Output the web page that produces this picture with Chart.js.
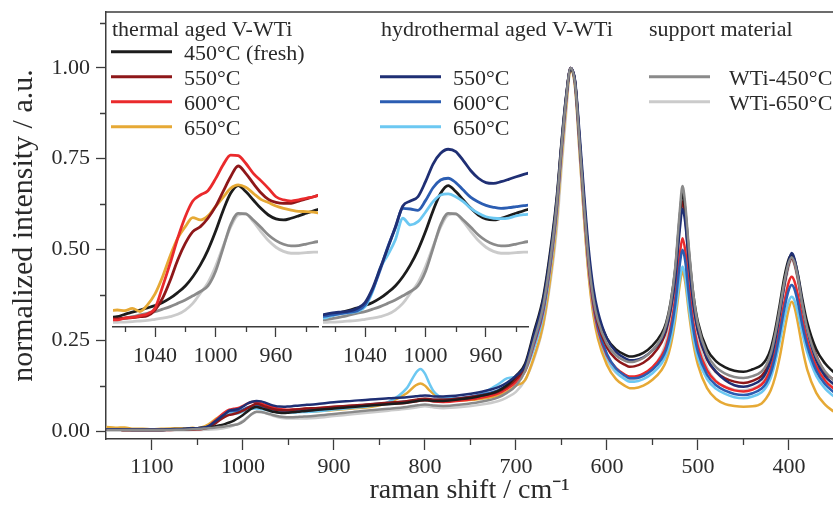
<!DOCTYPE html>
<html>
<head>
<meta charset="utf-8">
<script src="https://cdn.jsdelivr.net/npm/chart.js@4.4.1/dist/chart.umd.min.js"></script>
<style>
  html, body { margin: 0; padding: 0; background: #fff; }
  #wrap { position: relative; width: 833px; height: 515px; overflow: hidden; }
  #main { position: absolute; left: 0; top: 0; }
  #inset1 { position: absolute; left: 100px; top: 130px; }
  #inset2 { position: absolute; left: 310px; top: 130px; }
</style>
</head>
<body>
<div id="wrap">
  <canvas id="main" width="833" height="515"></canvas>
  <canvas id="inset1" width="230" height="240"></canvas>
  <canvas id="inset2" width="230" height="240"></canvas>
</div>
<script>
// raman shift grid (cm-1), shared by every spectrum
const shift = [
  1150, 1140, 1130, 1120, 1110, 1100, 1090, 1080, 1070,
  1065, 1060, 1055, 1050, 1045, 1040, 1035, 1030, 1025, 1020, 1015, 1010, 1005, 1000, 995, 990, 985, 980, 975, 970, 965, 960, 955, 950, 945, 940, 935, 930,
  920, 900, 880, 860, 840, 820, 810, 805, 800, 795, 790, 780, 760, 740, 720, 710, 700,
  690, 680, 670, 660, 655, 650, 645, 640, 635, 630, 625, 620, 615, 610, 600, 590, 580, 575, 570, 560, 550, 540, 535, 530, 525, 520, 517, 514, 510, 505, 500, 490, 480, 470, 460, 450, 440, 430, 425, 420, 415, 410, 405, 400, 397, 394, 390, 385, 380, 370, 360, 350
];

// thermal aged V-WTi
const t450 = [
  0.004, 0.004, 0.003, 0.003, 0.003, 0.003, 0.003, 0.004, 0.0045,
  0.0048, 0.0059, 0.0069, 0.0079, 0.0089, 0.0100, 0.0114, 0.0134, 0.0160, 0.0191, 0.0234, 0.0289, 0.0358, 0.0444, 0.0541, 0.0622, 0.0658, 0.0630, 0.0591, 0.0552, 0.0521, 0.0503, 0.0498, 0.0506, 0.0517, 0.0529, 0.0541, 0.0552,
  0.058, 0.062, 0.066, 0.070, 0.074, 0.078, 0.082, 0.084, 0.085, 0.084, 0.083, 0.083, 0.088, 0.096, 0.110, 0.126, 0.152,
  0.185, 0.275, 0.370, 0.540, 0.650, 0.795, 0.920, 0.995, 0.960, 0.800, 0.630, 0.480, 0.380, 0.320, 0.255, 0.225, 0.210, 0.205, 0.206, 0.215, 0.235, 0.268, 0.298, 0.355, 0.445, 0.590, 0.655, 0.610, 0.495, 0.375, 0.300, 0.225, 0.192, 0.175, 0.166, 0.163, 0.170, 0.182, 0.197, 0.227, 0.280, 0.350, 0.425, 0.475, 0.485, 0.472, 0.430, 0.360, 0.300, 0.225, 0.185, 0.160
];
const t550 = [
  0.004, 0.004, 0.003, 0.003, 0.003, 0.003, 0.003, 0.0035, 0.0037,
  0.0038, 0.0041, 0.0044, 0.0048, 0.0053, 0.0079, 0.0134, 0.0216, 0.0312, 0.0389, 0.0444, 0.0467, 0.0506, 0.0560, 0.0630, 0.0699, 0.0749, 0.0715, 0.0668, 0.0625, 0.0594, 0.0580, 0.0575, 0.0575, 0.0586, 0.0596, 0.0606, 0.0617,
  0.063, 0.067, 0.070, 0.074, 0.078, 0.082, 0.086, 0.088, 0.089, 0.088, 0.086, 0.086, 0.090, 0.097, 0.108, 0.122, 0.143,
  0.175, 0.255, 0.350, 0.520, 0.635, 0.785, 0.915, 1.000, 0.960, 0.795, 0.620, 0.465, 0.360, 0.298, 0.230, 0.198, 0.182, 0.177, 0.178, 0.188, 0.209, 0.244, 0.276, 0.335, 0.428, 0.575, 0.632, 0.590, 0.472, 0.352, 0.275, 0.197, 0.162, 0.145, 0.136, 0.132, 0.138, 0.152, 0.170, 0.203, 0.260, 0.330, 0.405, 0.462, 0.475, 0.462, 0.418, 0.345, 0.285, 0.208, 0.160, 0.140
];
const t600 = [
  0.004, 0.004, 0.003, 0.003, 0.003, 0.003, 0.003, 0.003, 0.0033,
  0.0033, 0.0041, 0.0045, 0.0052, 0.0061, 0.0087, 0.0188, 0.0296, 0.0413, 0.0513, 0.0586, 0.0614, 0.0634, 0.0689, 0.0754, 0.0800, 0.0797, 0.0762, 0.0715, 0.0681, 0.0645, 0.0606, 0.0591, 0.0586, 0.0591, 0.0599, 0.0606, 0.0617,
  0.063, 0.066, 0.069, 0.072, 0.075, 0.078, 0.082, 0.084, 0.085, 0.083, 0.081, 0.080, 0.084, 0.091, 0.103, 0.116, 0.135,
  0.165, 0.240, 0.330, 0.500, 0.615, 0.770, 0.905, 1.000, 0.955, 0.785, 0.605, 0.450, 0.345, 0.280, 0.208, 0.173, 0.155, 0.150, 0.150, 0.158, 0.176, 0.207, 0.234, 0.285, 0.365, 0.485, 0.531, 0.497, 0.398, 0.297, 0.232, 0.167, 0.136, 0.121, 0.112, 0.109, 0.114, 0.128, 0.144, 0.173, 0.222, 0.285, 0.355, 0.412, 0.425, 0.413, 0.372, 0.305, 0.250, 0.178, 0.138, 0.115
];
const t650 = [
  0.011, 0.009, 0.010, 0.006, 0.006, 0.005, 0.006, 0.007, 0.0075,
  0.0079, 0.0076, 0.0087, 0.0072, 0.0103, 0.0154, 0.0234, 0.0330, 0.0413, 0.0467, 0.0509, 0.0498, 0.0517, 0.0560, 0.0603, 0.0645, 0.0661, 0.0650, 0.0622, 0.0594, 0.0579, 0.0563, 0.0552, 0.0544, 0.0538, 0.0537, 0.0534, 0.0529,
  0.054, 0.058, 0.062, 0.066, 0.078, 0.104, 0.126, 0.131, 0.125, 0.112, 0.101, 0.090, 0.084, 0.088, 0.097, 0.108, 0.125,
  0.140, 0.205, 0.295, 0.465, 0.585, 0.745, 0.890, 0.995, 0.945, 0.765, 0.580, 0.425, 0.320, 0.255, 0.182, 0.143, 0.124, 0.118, 0.118, 0.125, 0.141, 0.168, 0.192, 0.235, 0.305, 0.402, 0.440, 0.410, 0.327, 0.240, 0.182, 0.118, 0.088, 0.074, 0.069, 0.067, 0.068, 0.076, 0.090, 0.112, 0.150, 0.205, 0.275, 0.338, 0.356, 0.342, 0.295, 0.225, 0.170, 0.105, 0.072, 0.052
];

// hydrothermal aged V-WTi
const h550 = [
  0.005, 0.005, 0.004, 0.004, 0.004, 0.004, 0.004, 0.005, 0.0055,
  0.0061, 0.0067, 0.0070, 0.0075, 0.0087, 0.0114, 0.0180, 0.0273, 0.0366, 0.0464, 0.0563, 0.0586, 0.0606, 0.0676, 0.0758, 0.0808, 0.0827, 0.0816, 0.0774, 0.0727, 0.0692, 0.0672, 0.0668, 0.0676, 0.0687, 0.0699, 0.0710, 0.0720,
  0.074, 0.079, 0.083, 0.087, 0.090, 0.093, 0.096, 0.097, 0.098, 0.097, 0.095, 0.095, 0.099, 0.107, 0.120, 0.133, 0.152,
  0.180, 0.268, 0.362, 0.530, 0.640, 0.790, 0.918, 1.000, 0.965, 0.815, 0.650, 0.500, 0.395, 0.330, 0.255, 0.218, 0.200, 0.195, 0.195, 0.203, 0.222, 0.253, 0.282, 0.335, 0.420, 0.555, 0.612, 0.575, 0.465, 0.350, 0.277, 0.200, 0.163, 0.140, 0.126, 0.122, 0.128, 0.143, 0.162, 0.195, 0.252, 0.325, 0.405, 0.470, 0.490, 0.475, 0.425, 0.345, 0.280, 0.195, 0.150, 0.128
];
const h600 = [
  0.004, 0.004, 0.004, 0.003, 0.003, 0.003, 0.003, 0.004, 0.0048,
  0.0052, 0.0058, 0.0064, 0.0069, 0.0076, 0.0103, 0.0172, 0.0265, 0.0371, 0.0459, 0.0552, 0.0549, 0.0543, 0.0588, 0.0648, 0.0684, 0.0692, 0.0672, 0.0637, 0.0603, 0.0582, 0.0566, 0.0557, 0.0552, 0.0555, 0.0560, 0.0565, 0.0569,
  0.059, 0.064, 0.068, 0.073, 0.077, 0.081, 0.085, 0.087, 0.088, 0.087, 0.086, 0.086, 0.091, 0.099, 0.112, 0.126, 0.147,
  0.170, 0.245, 0.335, 0.505, 0.620, 0.775, 0.910, 1.000, 0.960, 0.795, 0.620, 0.462, 0.355, 0.288, 0.212, 0.172, 0.152, 0.145, 0.145, 0.152, 0.169, 0.198, 0.224, 0.272, 0.348, 0.458, 0.499, 0.468, 0.375, 0.280, 0.218, 0.155, 0.126, 0.111, 0.102, 0.099, 0.104, 0.117, 0.132, 0.160, 0.207, 0.270, 0.338, 0.390, 0.402, 0.391, 0.352, 0.288, 0.236, 0.166, 0.128, 0.105
];
const h650 = [
  0.004, 0.004, 0.004, 0.003, 0.003, 0.003, 0.003, 0.0035, 0.004,
  0.0045, 0.0056, 0.0064, 0.0067, 0.0073, 0.0095, 0.0165, 0.0273, 0.0335, 0.0405, 0.0506, 0.0475, 0.0490, 0.0534, 0.0583, 0.0614, 0.0619, 0.0606, 0.0583, 0.0552, 0.0529, 0.0513, 0.0506, 0.0504, 0.0507, 0.0517, 0.0523, 0.0526,
  0.054, 0.059, 0.064, 0.069, 0.080, 0.118, 0.160, 0.171, 0.158, 0.130, 0.108, 0.092, 0.090, 0.100, 0.128, 0.145, 0.150,
  0.165, 0.228, 0.318, 0.490, 0.605, 0.765, 0.905, 1.000, 0.955, 0.780, 0.600, 0.445, 0.340, 0.275, 0.202, 0.163, 0.142, 0.136, 0.136, 0.143, 0.159, 0.186, 0.210, 0.253, 0.322, 0.418, 0.453, 0.425, 0.342, 0.257, 0.201, 0.143, 0.116, 0.102, 0.093, 0.090, 0.095, 0.107, 0.121, 0.146, 0.190, 0.248, 0.311, 0.359, 0.370, 0.360, 0.324, 0.266, 0.217, 0.152, 0.116, 0.094
];

// support material
const wti450 = [
  0.003, 0.003, 0.003, 0.003, 0.003, 0.003, 0.003, 0.003, 0.0034,
  0.0036, 0.0041, 0.0048, 0.0056, 0.0064, 0.0072, 0.0083, 0.0095, 0.0110, 0.0126, 0.0145, 0.0165, 0.0191, 0.0258, 0.0366, 0.0475, 0.0529, 0.0526, 0.0498, 0.0464, 0.0428, 0.0402, 0.0385, 0.0377, 0.0379, 0.0386, 0.0394, 0.0400,
  0.042, 0.047, 0.052, 0.057, 0.061, 0.066, 0.070, 0.072, 0.073, 0.072, 0.070, 0.069, 0.073, 0.080, 0.092, 0.105, 0.125,
  0.165, 0.250, 0.345, 0.515, 0.630, 0.780, 0.910, 1.000, 0.955, 0.790, 0.615, 0.465, 0.365, 0.305, 0.240, 0.208, 0.193, 0.190, 0.191, 0.201, 0.222, 0.258, 0.292, 0.352, 0.450, 0.605, 0.675, 0.625, 0.505, 0.375, 0.293, 0.212, 0.175, 0.158, 0.149, 0.146, 0.151, 0.164, 0.181, 0.213, 0.268, 0.338, 0.412, 0.465, 0.478, 0.465, 0.420, 0.345, 0.283, 0.205, 0.163, 0.138
];
const wti650 = [
  0.002, 0.002, 0.002, 0.002, 0.002, 0.002, 0.002, 0.002, 0.0021,
  0.0022, 0.0023, 0.0025, 0.0028, 0.0031, 0.0036, 0.0041, 0.0048, 0.0059, 0.0079, 0.0110, 0.0157, 0.0206, 0.0281, 0.0374, 0.0464, 0.0521, 0.0526, 0.0490, 0.0444, 0.0402, 0.0371, 0.0352, 0.0343, 0.0343, 0.0346, 0.0348, 0.0348,
  0.036, 0.041, 0.046, 0.051, 0.056, 0.061, 0.065, 0.067, 0.068, 0.067, 0.065, 0.063, 0.066, 0.072, 0.082, 0.092, 0.108,
  0.140, 0.200, 0.290, 0.450, 0.560, 0.720, 0.870, 0.995, 0.945, 0.760, 0.580, 0.430, 0.330, 0.265, 0.195, 0.160, 0.145, 0.141, 0.142, 0.152, 0.174, 0.212, 0.248, 0.312, 0.415, 0.565, 0.625, 0.582, 0.460, 0.335, 0.255, 0.175, 0.138, 0.122, 0.114, 0.112, 0.117, 0.132, 0.151, 0.185, 0.240, 0.312, 0.390, 0.455, 0.470, 0.457, 0.410, 0.335, 0.272, 0.190, 0.148, 0.123
];

const seriesValues = [t450, t550, t600, t650, h550, h600, h650, wti450, wti650];
const seriesLabels = ['450°C (fresh)', '550°C', '600°C', '650°C', '550°C', '600°C', '650°C', 'WTi-450°C', 'WTi-650°C'];
const seriesColors = ['#1c1c1c', '#8e1719', '#ea2a2c', '#e6a935', '#1f2f74', '#2b5db2', '#6cc8f2', '#8a8a8a', '#cbcbcb'];

const legendGroups = [
  { title: 'thermal aged V-WTi', items: [0, 1, 2, 3] },
  { title: 'hydrothermal aged V-WTi', items: [4, 5, 6] },
  { title: 'support material', items: [7, 8] }
];

// tick positions
const xTicks = [1100, 1000, 900, 800, 700, 600, 500, 400];
const yTicks = [0, 0.25, 0.5, 0.75, 1.0];
const insetTicks = [1040, 1000, 960];
const minorX = [1050, 950, 850, 750, 650, 550, 450];
const minorY = [0.125, 0.375, 0.625, 0.875, 1.125];
const insetMinorX = [1060, 1020, 980, 940];

const fontFamily = "'Liberation Serif', 'Times New Roman', serif";
const axisColor = '#3c3c3c';
const textColor = '#2a2a2a';

const points = (vals) => shift.map((s, i) => ({ x: s, y: vals[i] }));

const makeDataset = (idx, width) => ({
  label: seriesLabels[idx],
  data: points(seriesValues[idx]),
  borderColor: seriesColors[idx],
  backgroundColor: seriesColors[idx],
  borderWidth: width,
  pointRadius: 0,
  fill: false,
  cubicInterpolationMode: 'monotone'
});

const fixedTicks = (values) => (scale) => {
  scale.ticks = values.map((v) => ({ value: v }));
};

// short minor tick marks + top frame line
const minorTicks = {
  id: 'minorTicks',
  afterDraw(chart, args, opts) {
    const { ctx, chartArea, scales } = chart;
    ctx.save();
    ctx.strokeStyle = axisColor;
    ctx.lineWidth = 1.3;
    ctx.beginPath();
    (opts.x || []).forEach((v) => {
      const px = Math.round(scales.x.getPixelForValue(v)) + 0.5;
      ctx.moveTo(px, chartArea.bottom);
      ctx.lineTo(px, chartArea.bottom + opts.len);
    });
    (opts.y || []).forEach((v) => {
      const py = Math.round(scales.y.getPixelForValue(v)) + 0.5;
      ctx.moveTo(chartArea.left, py);
      ctx.lineTo(chartArea.left - opts.len, py);
    });
    if (opts.frameTop) {
      ctx.moveTo(chartArea.left, chartArea.top);
      ctx.lineTo(chartArea.right, chartArea.top);
    }
    ctx.stroke();
    ctx.restore();
  }
};

const groupLegend = {
  id: 'groupLegend',
  afterDraw(chart, args, opts) {
    const ctx = chart.ctx;
    ctx.save();
    ctx.font = '22px ' + fontFamily;
    ctx.fillStyle = textColor;
    ctx.textBaseline = 'alphabetic';
    legendGroups.forEach((g, gi) => {
      const pos = opts.groups[gi];
      ctx.fillText(g.title, pos.x, opts.headerY);
      g.items.forEach((idx, k) => {
        const y = opts.rowY + (k + pos.firstRow) * opts.rowGap;
        ctx.strokeStyle = seriesColors[idx];
        ctx.lineWidth = 3;
        ctx.beginPath();
        ctx.moveTo(pos.lineX, y);
        ctx.lineTo(pos.lineX + opts.lineLen, y);
        ctx.stroke();
        ctx.fillText(seriesLabels[idx], pos.textX, y + 8);
      });
    });
    ctx.restore();
  }
};

const tickFont = { family: fontFamily, size: 22 };

new Chart(document.getElementById('main'), {
  type: 'line',
  data: { datasets: [7, 4, 0, 1, 5, 2, 6, 3, 8].map((i) => makeDataset(i, 2.5)) },
  plugins: [minorTicks, groupLegend],
  options: {
    responsive: false,
    animation: false,
    devicePixelRatio: 1,
    layout: { padding: { top: 12, right: 0, left: 0, bottom: 0 } },
    plugins: {
      legend: { display: false },
      tooltip: { enabled: false },
      minorTicks: { x: minorX, y: minorY, len: 6, frameTop: true },
      groupLegend: {
        headerY: 36,
        rowY: 51.7,
        rowGap: 25,
        lineLen: 61,
        groups: [
          { x: 112, lineX: 111, textX: 184, firstRow: 0 },
          { x: 381, lineX: 380, textX: 453, firstRow: 1 },
          { x: 649, lineX: 649, textX: 729, firstRow: 1 }
        ]
      }
    },
    scales: {
      x: {
        type: 'linear',
        reverse: true,
        min: 351.6,
        max: 1150.5,
        afterBuildTicks: fixedTicks(xTicks),
        border: { color: axisColor, width: 1.5 },
        grid: { drawOnChartArea: false, tickLength: 11, tickColor: axisColor, tickWidth: 1.3 },
        ticks: { font: tickFont, color: textColor, padding: 4, maxRotation: 0, autoSkip: false, callback: (v) => String(v) },
        title: { display: true, text: 'raman shift / cm⁻¹', font: { family: fontFamily, size: 28 }, color: textColor, padding: { top: 0, bottom: 8 } },
        afterFit: (scale) => { scale.height = 76; }
      },
      y: {
        min: -0.022,
        max: 1.154,
        afterBuildTicks: fixedTicks(yTicks),
        border: { color: axisColor, width: 1.5 },
        grid: { drawOnChartArea: false, tickLength: 10, tickColor: axisColor, tickWidth: 1.3 },
        ticks: { font: { family: fontFamily, size: 22, lineHeight: 0.5 }, color: textColor, padding: 6, autoSkip: false, callback: (v) => v.toFixed(2) },
        title: { display: true, text: 'normalized intensity / a.u.', font: { family: fontFamily, size: 30 }, color: textColor, padding: { top: 6, bottom: 0 } },
        afterFit: (scale) => { scale.width = 106; }
      }
    }
  }
});

const makeInset = (canvasId, order) => new Chart(document.getElementById(canvasId), {
  type: 'line',
  data: { datasets: order.map((i) => makeDataset(i, 2.8)) },
  plugins: [minorTicks],
  options: {
    responsive: false,
    animation: false,
    devicePixelRatio: 1,
    layout: { padding: { top: 10, right: 12, left: 13, bottom: 0 } },
    plugins: {
      legend: { display: false },
      tooltip: { enabled: false },
      minorTicks: { x: insetMinorX, len: 5 }
    },
    scales: {
      x: {
        type: 'linear',
        reverse: true,
        min: 932.2,
        max: 1067.8,
        afterBuildTicks: fixedTicks(insetTicks),
        border: { color: axisColor, width: 1.5 },
        grid: { drawOnChartArea: false, tickLength: 10, tickColor: axisColor, tickWidth: 1.3 },
        ticks: { font: tickFont, color: textColor, padding: 6, maxRotation: 0, autoSkip: false, callback: (v) => String(v) },
        afterFit: (scale) => { scale.height = 43; }
      },
      y: { display: false, min: 0, max: 0.087 }
    }
  }
});

makeInset('inset1', [2, 1, 3, 0, 7, 8]);
makeInset('inset2', [4, 5, 6, 0, 7, 8]);
</script>
</body>
</html>
